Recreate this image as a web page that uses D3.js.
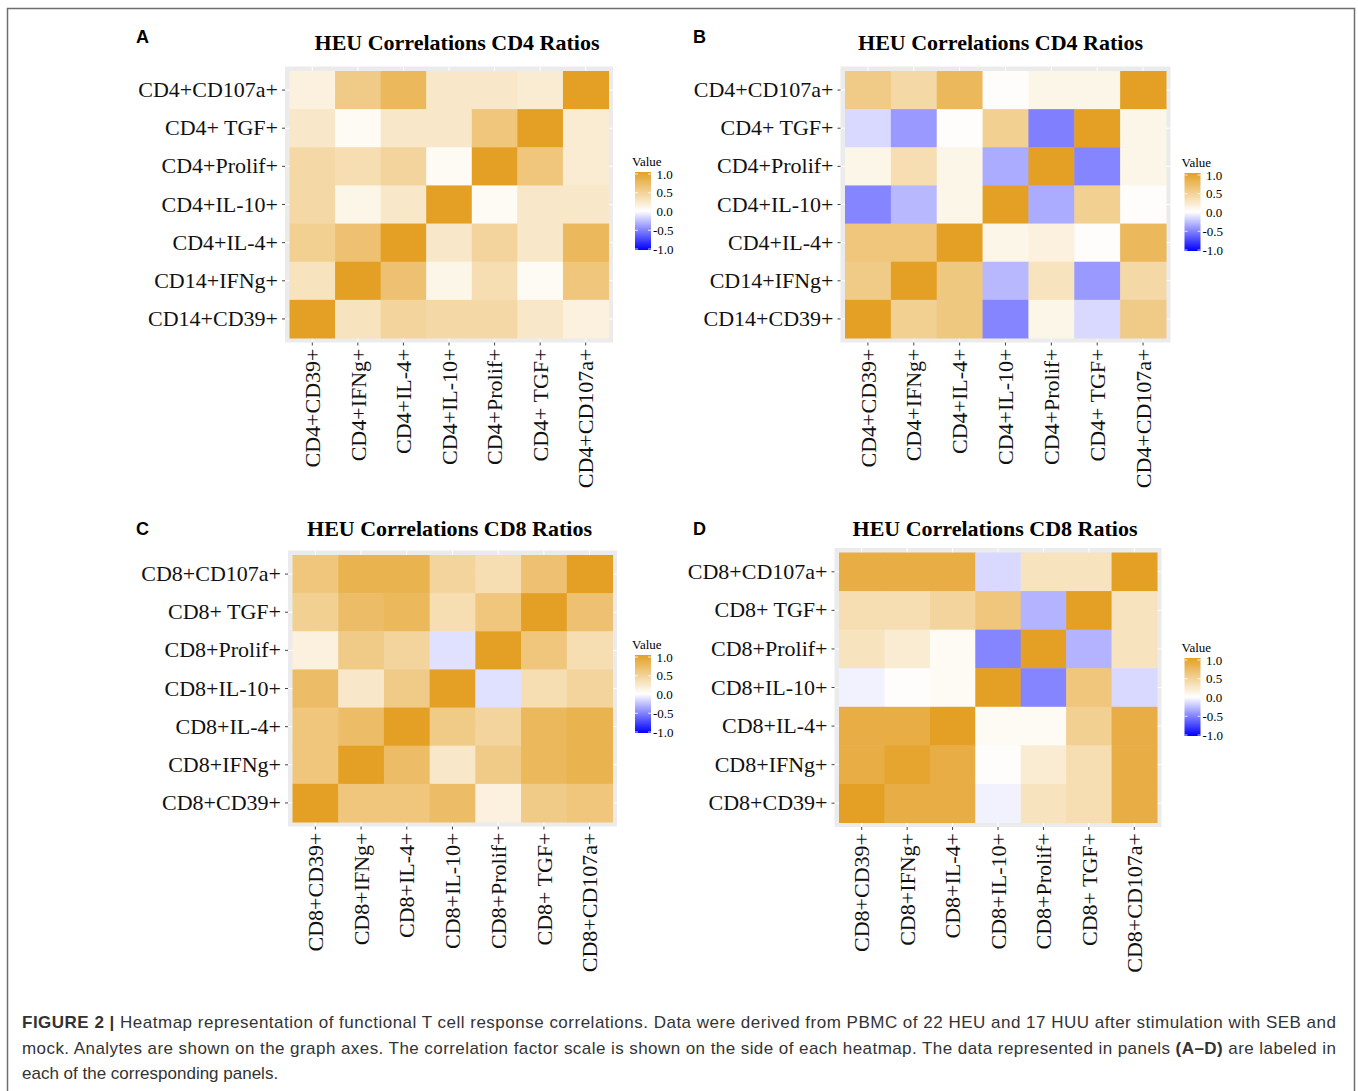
<!DOCTYPE html>
<html>
<head>
<meta charset="utf-8">
<script src="https://cdn.jsdelivr.net/npm/d3@7"></script>
<style>
  body { margin: 0; background: #fff; }
  svg { display: block; }
</style>
</head>
<body>
<script>
/*
 * Figure 2: four correlation heatmaps (CD4 / CD8 ratios) drawn with D3.
 */

// row labels are listed top to bottom, column labels left to right
const cd4Rows = ['CD4+CD107a+', 'CD4+ TGF+', 'CD4+Prolif+', 'CD4+IL-10+', 'CD4+IL-4+', 'CD14+IFNg+', 'CD14+CD39+'];
const cd4Cols = ['CD4+CD39+', 'CD4+IFNg+', 'CD4+IL-4+', 'CD4+IL-10+', 'CD4+Prolif+', 'CD4+ TGF+', 'CD4+CD107a+'];
const cd8Rows = ['CD8+CD107a+', 'CD8+ TGF+', 'CD8+Prolif+', 'CD8+IL-10+', 'CD8+IL-4+', 'CD8+IFNg+', 'CD8+CD39+'];
const cd8Cols = ['CD8+CD39+', 'CD8+IFNg+', 'CD8+IL-4+', 'CD8+IL-10+', 'CD8+Prolif+', 'CD8+ TGF+', 'CD8+CD107a+'];

// correlation values, one array per row (same order as the row labels)
const valuesA = [
  [0.15, 0.55, 0.75, 0.25, 0.25, 0.20, 1.00],
  [0.25, 0.05, 0.25, 0.25, 0.60, 1.00, 0.20],
  [0.40, 0.35, 0.45, 0.05, 1.00, 0.60, 0.20],
  [0.40, 0.10, 0.25, 1.00, 0.05, 0.25, 0.25],
  [0.50, 0.65, 1.00, 0.25, 0.45, 0.25, 0.75],
  [0.30, 1.00, 0.65, 0.10, 0.35, 0.05, 0.60],
  [1.00, 0.30, 0.45, 0.40, 0.40, 0.25, 0.15]
];
const valuesB = [
  [0.55, 0.40, 0.75, 0.02, 0.10, 0.10, 1.00],
  [-0.15, -0.40, 0.02, 0.50, -0.50, 1.00, 0.10],
  [0.10, 0.35, 0.10, -0.33, 1.00, -0.48, 0.10],
  [-0.48, -0.28, 0.10, 1.00, -0.33, 0.50, 0.02],
  [0.60, 0.60, 1.00, 0.10, 0.15, 0.02, 0.75],
  [0.55, 1.00, 0.58, -0.28, 0.30, -0.40, 0.40],
  [1.00, 0.50, 0.58, -0.48, 0.10, -0.15, 0.55]
];
const valuesC = [
  [0.60, 0.80, 0.80, 0.45, 0.35, 0.65, 1.00],
  [0.50, 0.70, 0.75, 0.35, 0.60, 1.00, 0.65],
  [0.15, 0.55, 0.45, -0.12, 1.00, 0.60, 0.35],
  [0.70, 0.25, 0.55, 1.00, -0.12, 0.35, 0.45],
  [0.60, 0.70, 1.00, 0.55, 0.45, 0.75, 0.80],
  [0.60, 1.00, 0.70, 0.25, 0.55, 0.75, 0.80],
  [1.00, 0.60, 0.60, 0.70, 0.15, 0.55, 0.60]
];
const valuesD = [
  [0.85, 0.85, 0.85, -0.15, 0.30, 0.30, 1.00],
  [0.35, 0.35, 0.45, 0.60, -0.30, 1.00, 0.30],
  [0.30, 0.20, 0.05, -0.48, 1.00, -0.30, 0.30],
  [-0.05, 0.02, 0.05, 1.00, -0.48, 0.60, -0.15],
  [0.85, 0.85, 1.00, 0.05, 0.05, 0.50, 0.85],
  [0.85, 0.95, 0.85, 0.02, 0.20, 0.35, 0.85],
  [1.00, 0.85, 0.85, -0.05, 0.30, 0.35, 0.85]
];

const legendTicks = [1.0, 0.5, 0.0, -0.5, -1.0];

const serif = '"Liberation Serif", "Times New Roman", serif';
const sans = '"Liberation Sans", Arial, sans-serif';

const width = 1358;
const height = 1091;

const color = d3.scaleLinear()
    .domain([-1, 0, 1])
    .range(['#0000ff', '#ffffff', '#e4a024'])
    .interpolate(d3.interpolateRgb);

const svg = d3.select('body')
  .append('svg')
    .attr('width', width)
    .attr('height', height);

// outer figure frame (open at the bottom)
svg.append('path')
    .attr('d', `M7.5,${height} V8.5 H1354.5 V${height}`)
    .attr('fill', 'none')
    .attr('stroke', '#6e6e6e')
    .attr('stroke-width', 1.5);

// shared gradient for the colour bars
const grad = svg.append('defs')
  .append('linearGradient')
    .attr('id', 'valueGrad')
    .attr('x1', 0).attr('y1', 1)
    .attr('x2', 0).attr('y2', 0);
d3.range(0, 1.0001, 0.05).forEach(t => {
  grad.append('stop')
      .attr('offset', t)
      .attr('stop-color', color(-1 + 2 * t));
});

/*
 * Draws one heatmap panel with its title, axes and legend.
 */
const drawHeatmap = cfg => {
  const g = svg.append('g');
  const pad = 4.5;

  const x = d3.scaleBand()
      .domain(cfg.cols)
      .range([cfg.left, cfg.left + cfg.w]);
  const y = d3.scaleBand()
      .domain(cfg.rows)
      .range([cfg.top, cfg.top + cfg.h]);

  // panel letter
  g.append('text')
      .attr('x', cfg.letterX)
      .attr('y', cfg.letterY)
      .attr('font-family', sans)
      .attr('font-weight', 'bold')
      .attr('font-size', 18)
      .text(cfg.letter);

  // title
  g.append('text')
      .attr('x', cfg.left + cfg.w / 2 + cfg.titleDx)
      .attr('y', cfg.titleY)
      .attr('text-anchor', 'middle')
      .attr('font-family', serif)
      .attr('font-weight', 'bold')
      .attr('font-size', 22)
      .text(cfg.title);

  // grey panel with white grid lines
  g.append('rect')
      .attr('x', cfg.left - pad)
      .attr('y', cfg.top - pad)
      .attr('width', cfg.w + 2 * pad)
      .attr('height', cfg.h + 2 * pad)
      .attr('fill', '#ebebeb');
  g.selectAll('.vgrid')
    .data(cfg.cols)
    .enter()
    .append('line')
      .attr('x1', d => x(d) + x.bandwidth() / 2)
      .attr('x2', d => x(d) + x.bandwidth() / 2)
      .attr('y1', cfg.top - pad)
      .attr('y2', cfg.top + cfg.h + pad)
      .attr('stroke', '#fff')
      .attr('stroke-width', 1);
  g.selectAll('.hgrid')
    .data(cfg.rows)
    .enter()
    .append('line')
      .attr('y1', d => y(d) + y.bandwidth() / 2)
      .attr('y2', d => y(d) + y.bandwidth() / 2)
      .attr('x1', cfg.left - pad)
      .attr('x2', cfg.left + cfg.w + pad)
      .attr('stroke', '#fff')
      .attr('stroke-width', 1);

  // tiles
  const cells = [];
  cfg.values.forEach((row, i) => {
    row.forEach((v, j) => cells.push({ row: cfg.rows[i], col: cfg.cols[j], v }));
  });
  g.selectAll('.tile')
    .data(cells)
    .enter()
    .append('rect')
      .attr('x', d => x(d.col))
      .attr('y', d => y(d.row))
      .attr('width', x.bandwidth() + 0.5)
      .attr('height', y.bandwidth() + 0.5)
      .attr('fill', d => color(d.v));

  // y axis
  const yAxis = d3.axisLeft(y)
      .tickSize(3)
      .tickPadding(4);
  const gy = g.append('g')
      .attr('transform', `translate(${cfg.left - pad}, 0)`)
      .call(yAxis);
  gy.select('.domain').remove();
  gy.selectAll('line').attr('stroke', '#444');
  gy.selectAll('text')
      .attr('font-family', serif)
      .attr('font-size', 22)
      .attr('fill', '#111');

  // x axis with vertical labels
  const xAxis = d3.axisBottom(x)
      .tickSize(3)
      .tickPadding(4);
  const gx = g.append('g')
      .attr('transform', `translate(0, ${cfg.top + cfg.h + pad})`)
      .call(xAxis);
  gx.select('.domain').remove();
  gx.selectAll('line').attr('stroke', '#444');
  gx.selectAll('text')
      .attr('font-family', serif)
      .attr('font-size', 22)
      .attr('fill', '#111')
      .attr('text-anchor', 'end')
      .attr('transform', 'rotate(-90)')
      .attr('x', -6)
      .attr('y', 0)
      .attr('dy', '0.35em');

  // legend
  const lg = g.append('g');
  const barTop = cfg.legendTop;
  const barH = 78;
  const barW = 16;
  const ly = d3.scaleLinear()
      .domain([-1, 1])
      .range([barTop + barH - 1, barTop + 2]);

  lg.append('text')
      .attr('x', cfg.legendX - 3)
      .attr('y', barTop - 6)
      .attr('font-family', serif)
      .attr('font-size', 13)
      .text('Value');
  lg.append('rect')
      .attr('x', cfg.legendX)
      .attr('y', barTop)
      .attr('width', barW)
      .attr('height', barH)
      .attr('fill', 'url(#valueGrad)');
  legendTicks.forEach(t => {
    [cfg.legendX, cfg.legendX + barW - 3].forEach(tx => {
      lg.append('line')
          .attr('x1', tx).attr('x2', tx + 3)
          .attr('y1', ly(t)).attr('y2', ly(t))
          .attr('stroke', '#fff')
          .attr('stroke-width', 0.8);
    });
  });
  lg.selectAll('.lbl')
    .data(legendTicks)
    .enter()
    .append('text')
      .attr('x', d => cfg.legendX + barW + (d < 0 ? 2 : 5.5))
      .attr('y', d => ly(d))
      .attr('dy', '0.35em')
      .attr('font-family', serif)
      .attr('font-size', 13)
      .text(d => d.toFixed(1));
};

drawHeatmap({
  letter: 'A', letterX: 136, letterY: 43,
  title: 'HEU Correlations CD4 Ratios', titleY: 50, titleDx: 8,
  rows: cd4Rows, cols: cd4Cols, values: valuesA,
  left: 289.5, top: 71, w: 319, h: 267,
  legendX: 635, legendTop: 172
});
drawHeatmap({
  letter: 'B', letterX: 693, letterY: 43,
  title: 'HEU Correlations CD4 Ratios', titleY: 50, titleDx: -5,
  rows: cd4Rows, cols: cd4Cols, values: valuesB,
  left: 845, top: 71, w: 321, h: 267,
  legendX: 1184.5, legendTop: 173
});
drawHeatmap({
  letter: 'C', letterX: 136, letterY: 535,
  title: 'HEU Correlations CD8 Ratios', titleY: 536, titleDx: -3,
  rows: cd8Rows, cols: cd8Cols, values: valuesC,
  left: 292.5, top: 555, w: 320, h: 267,
  legendX: 635, legendTop: 655
});
drawHeatmap({
  letter: 'D', letterX: 693, letterY: 535,
  title: 'HEU Correlations CD8 Ratios', titleY: 536, titleDx: -3,
  rows: cd8Rows, cols: cd8Cols, values: valuesD,
  left: 839, top: 552.5, w: 318, h: 270,
  legendX: 1184.5, legendTop: 658
});

// caption
const capLines = [
  [['FIGURE 2 | ', true], ['Heatmap representation of functional T cell response correlations. Data were derived from PBMC of 22 HEU and 17 HUU after stimulation with SEB and', false]],
  [['mock. Analytes are shown on the graph axes. The correlation factor scale is shown on the side of each heatmap. The data represented in panels ', false], ['(A–D)', true], [' are labeled in', false]],
  [['each of the corresponding panels.', false]]
];
const caption = svg.append('g')
    .attr('font-family', sans)
    .attr('font-size', 17)
    .attr('fill', '#333');
capLines.forEach((parts, i) => {
  const t = caption.append('text')
      .attr('x', 22)
      .attr('y', 1028 + i * 25.5)
      .attr('xml:space', 'preserve');
  if (i < 2) {
    t.attr('textLength', 1314).attr('lengthAdjust', 'spacing');
  }
  parts.forEach(([s, bold]) => {
    t.append('tspan')
        .attr('font-weight', bold ? 'bold' : null)
        .text(s);
  });
});
</script>
</body>
</html>
